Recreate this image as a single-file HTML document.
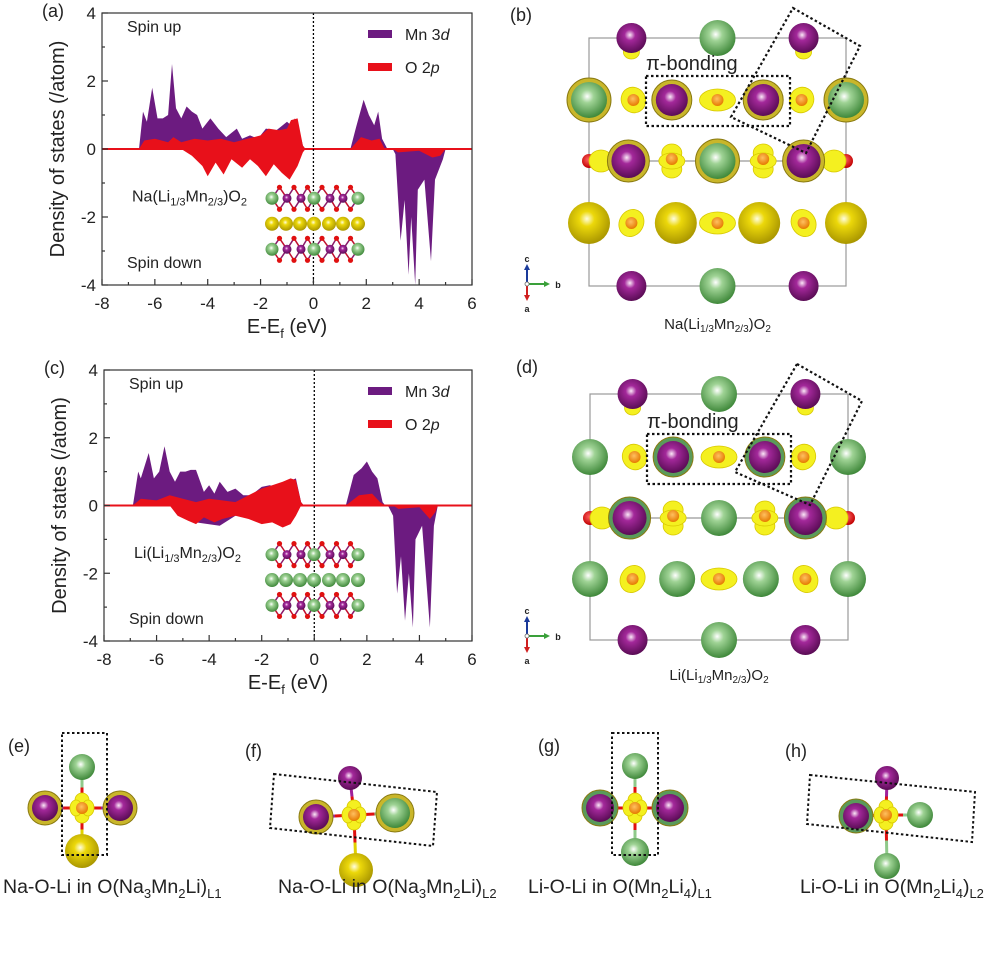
<!DOCTYPE html>
<html><head><meta charset="utf-8">
<style>
html,body{margin:0;padding:0;background:#fff;}
svg{display:block;font-family:"Liberation Sans",Arial,sans-serif;}
</style></head>
<body>
<svg id="fig" width="1000" height="954" viewBox="0 0 1000 954" xmlns="http://www.w3.org/2000/svg">
<defs>
<radialGradient id="gP" cx="0.45" cy="0.4" r="0.6"><stop offset="0" stop-color="#fbe8f7"/><stop offset="0.3" stop-color="#a3289a"/><stop offset="1" stop-color="#5a0c55"/></radialGradient>
<radialGradient id="gG" cx="0.45" cy="0.4" r="0.6"><stop offset="0" stop-color="#ffffff"/><stop offset="0.3" stop-color="#9fd395"/><stop offset="1" stop-color="#3f883a"/></radialGradient>
<radialGradient id="gY" cx="0.45" cy="0.4" r="0.6"><stop offset="0" stop-color="#fffde0"/><stop offset="0.3" stop-color="#ecd80a"/><stop offset="1" stop-color="#a99600"/></radialGradient>
<radialGradient id="gO" cx="0.45" cy="0.4" r="0.6"><stop offset="0" stop-color="#ffc060"/><stop offset="1" stop-color="#e57a00"/></radialGradient>
<radialGradient id="gR" cx="0.45" cy="0.4" r="0.6"><stop offset="0" stop-color="#ff6060"/><stop offset="1" stop-color="#c00000"/></radialGradient>
</defs>
<g id="dosA"></g>
<g id="dosC"></g>
<g id="crysB"></g>
<g id="crysD"></g>
<g id="bottom"></g>
</svg>
<script>
// ---- DOS data panel (a) ----
const aMnUp = [[-6.6,0],[-6.45,1.1],[-6.3,0.8],[-6.1,1.8],[-5.9,0.9],[-5.7,0.9],[-5.5,1.0],[-5.35,2.5],[-5.2,1.2],[-5.0,0.9],[-4.8,1.25],[-4.6,1.1],[-4.4,1.0],[-4.2,0.6],[-3.9,0.9],[-3.6,0.6],[-3.3,0.35],[-2.9,0.6],[-2.7,0.3],[-2.4,0.4],[-2.1,0.3],[-1.8,0.6],[-1.4,0.55],[-1.0,0.8],[-0.85,0.7],[-0.7,0.9],[-0.55,0.6],[-0.4,0.1],[-0.3,0]];
const aMnUpC = [[1.4,0],[1.6,0.6],[1.9,1.45],[2.1,1.0],[2.3,0.7],[2.45,1.1],[2.6,0.3],[2.8,0]];
const aOUp = [[-6.6,0],[-6.4,0.25],[-6.0,0.3],[-5.5,0.2],[-5.3,0.35],[-5.0,0.2],[-4.5,0.3],[-4.0,0.25],[-3.5,0.3],[-3.0,0.2],[-2.5,0.3],[-2.0,0.4],[-1.7,0.6],[-1.3,0.55],[-1.0,0.6],[-0.85,0.85],[-0.6,0.9],[-0.4,0.1],[-0.3,0]];
const aOUpC = [[1.4,0],[1.8,0.35],[2.2,0.25],[2.5,0.3],[2.7,0]];
const aODn = [[-5.0,0],[-4.6,-0.2],[-4.2,-0.5],[-4.0,-0.8],[-3.7,-0.4],[-3.4,-0.75],[-3.1,-0.3],[-2.7,-0.55],[-2.4,-0.3],[-2.1,-0.5],[-1.8,-0.8],[-1.5,-0.45],[-1.2,-0.7],[-0.9,-0.9],[-0.6,-0.5],[-0.4,-0.1],[-0.3,0]];
const aMnDnC = [[3.0,0],[3.1,-0.15],[3.3,-2.7],[3.45,-1.5],[3.6,-3.7],[3.7,-2.0],[3.85,-4.0],[3.95,-1.2],[4.2,-0.9],[4.45,-3.3],[4.6,-0.9],[4.9,-0.3],[5.0,0]];
const aODnC = [[3.0,0],[3.2,-0.1],[4.0,-0.05],[4.5,-0.25],[4.8,-0.2],[5.0,0]];
// ---- DOS data panel (c) ----
const cMnUp = [[-6.9,0],[-6.7,1.0],[-6.6,0.8],[-6.3,1.55],[-6.1,0.8],[-5.9,1.0],[-5.7,1.75],[-5.5,1.0],[-5.3,0.7],[-5.1,1.0],[-4.9,1.0],[-4.7,1.05],[-4.5,1.05],[-4.2,0.4],[-4.0,0.6],[-3.8,0.35],[-3.6,0.7],[-3.3,0.4],[-3.0,0.5],[-2.7,0.3],[-2.4,0.3],[-2.0,0.55],[-1.7,0.6],[-1.4,0.55],[-1.0,0.7],[-0.7,0.8],[-0.5,0.1],[-0.4,0]];
const cMnUpC = [[1.2,0],[1.5,0.9],[1.8,1.1],[2.0,1.3],[2.2,1.0],[2.4,0.8],[2.6,0.1],[2.7,0]];
const cOUp = [[-6.9,0],[-6.6,0.2],[-6.0,0.15],[-5.5,0.3],[-5.0,0.2],[-4.5,0.1],[-4.0,0.2],[-3.5,0.15],[-3.0,0.1],[-2.5,0.3],[-2.0,0.5],[-1.6,0.6],[-1.2,0.7],[-0.9,0.8],[-0.7,0.75],[-0.5,0.1],[-0.4,0]];
const cOUpC = [[1.2,0],[1.7,0.3],[2.2,0.35],[2.5,0.1],[2.7,0]];
const cMnDn = [[-5.5,0],[-4.5,-0.5],[-3.6,-0.6],[-3.0,-0.3],[-0.5,0]];
const cODn = [[-5.5,0],[-5.2,-0.3],[-4.8,-0.45],[-4.5,-0.55],[-4.2,-0.35],[-3.8,-0.5],[-3.5,-0.4],[-3.0,-0.3],[-2.5,-0.4],[-2.0,-0.55],[-1.6,-0.5],[-1.2,-0.65],[-0.9,-0.55],[-0.7,-0.3],[-0.5,0]];
const cMnDnC = [[2.8,0],[3.0,-0.3],[3.15,-2.6],[3.3,-1.5],[3.45,-3.4],[3.6,-2.0],[3.75,-3.6],[3.85,-1.0],[4.1,-0.6],[4.4,-3.6],[4.55,-0.6],[4.7,0]];
const cODnC = [[3.0,0],[3.2,-0.1],[4.0,-0.05],[4.4,-0.4],[4.6,-0.2],[4.7,0]];
const xTicks = [-8,-6,-4,-2,0,2,4,6];
const yTicks = [4,2,0,-2,-4];

const NS = "http://www.w3.org/2000/svg";
function mk(parent, tag, attrs, text){
  const e = document.createElementNS(NS, tag);
  for (const k in attrs) e.setAttribute(k, attrs[k]);
  if (text !== undefined) e.textContent = text;
  parent.appendChild(e); return e;
}

function drawDOS(g, box, label, formula, mnSets, oSets, insetLayer){
  const xS = E => box.x0 + (E + 8) / 14 * (box.x1 - box.x0);
  const yS = v => (box.y0 + box.y1) / 2 - v * (box.y1 - box.y0) / 8;
  const poly = (pts, col, name) => {
    const p = mk(g, 'polygon', {points: pts.map(d => xS(d[0]).toFixed(1) + ',' + yS(d[1]).toFixed(1)).join(' '), fill: col});
    
    
  };
  mnSets.forEach(s => poly(s, '#6c1b80', 'mn-3d-area'));
  oSets.forEach(s => poly(s, '#e8101a', 'o-2p-area'));
  const zl = mk(g, 'line', {x1: box.x0, x2: box.x1, y1: yS(0), y2: yS(0), stroke: '#e8101a', 'stroke-width': 2});
  
  
  const fl = mk(g, 'line', {x1: xS(0), x2: xS(0), y1: box.y0, y2: box.y1, stroke: '#000', 'stroke-width': 1.3, 'stroke-dasharray': '2,2'});
  
  
  const fr = mk(g, 'rect', {x: box.x0, y: box.y0, width: box.x1 - box.x0, height: box.y1 - box.y0, fill: 'none', stroke: '#333', 'stroke-width': 1.2});
  
  
  for (let E = -8; E <= 6; E += 1) {
    const maj = (E % 2 === 0);
    mk(g, 'line', {x1: xS(E), x2: xS(E), y1: box.y1, y2: box.y1 - (maj ? 6 : 3), stroke: '#333', 'stroke-width': 1.2});
  }
  for (let v = -4; v <= 4; v += 1) {
    const maj = (v % 2 === 0);
    mk(g, 'line', {x1: box.x0, x2: box.x0 + (maj ? 6 : 3), y1: yS(v), y2: yS(v), stroke: '#333', 'stroke-width': 1.2});
  }
  xTicks.forEach(t => {
    const tx = mk(g, 'text', {x: xS(t), y: box.y1 + 24, 'font-size': 17, 'text-anchor': 'middle', fill: '#222'}, String(t));
    
    
  });
  yTicks.forEach(t => {
    const tx = mk(g, 'text', {x: box.x0 - 6, y: yS(t) + 6, 'font-size': 17, 'text-anchor': 'end', fill: '#222'}, String(t));
    
    
  });
  const yt = mk(g, 'text', {x: 0, y: 0, 'font-size': 20, 'text-anchor': 'middle', fill: '#222', transform: 'translate(' + (box.x0 - 38) + ',' + ((box.y0 + box.y1) / 2) + ') rotate(-90)'}, 'Density of states (/atom)');
  
  
  const xt = mk(g, 'text', {x: xS(-1), y: box.y1 + 48, 'font-size': 20, 'text-anchor': 'middle', fill: '#222'});
  
  
  xt.innerHTML = 'E-E<tspan font-size="13" dy="5">f</tspan><tspan dy="-5"> (eV)</tspan>';
  const pl = mk(g, 'text', {x: box.x0 - 60, y: box.y0 + 4, 'font-size': 18, fill: '#222'}, label);
  
  
  const su = mk(g, 'text', {x: box.x0 + 25, y: box.y0 + 19, 'font-size': 16, fill: '#222'}, 'Spin up');
  
  
  const sd = mk(g, 'text', {x: box.x0 + 25, y: box.y1 - 17, 'font-size': 16, fill: '#222'}, 'Spin down');
  
  
  const lm = mk(g, 'rect', {x: 368, y: box.y0 + 17, width: 24, height: 8, fill: '#6c1b80'});
  
  
  const lmt = mk(g, 'text', {x: 405, y: box.y0 + 27, 'font-size': 16, fill: '#222'});
  
  
  lmt.innerHTML = 'Mn 3<tspan font-style="italic">d</tspan>';
  const lo = mk(g, 'rect', {x: 368, y: box.y0 + 50, width: 24, height: 8, fill: '#e8101a'});
  
  
  const lot = mk(g, 'text', {x: 405, y: box.y0 + 60, 'font-size': 16, fill: '#222'});
  
  
  lot.innerHTML = 'O 2<tspan font-style="italic">p</tspan>';
  const fm = mk(g, 'text', {x: box.x0 + 30, y: yS(-1.55), 'font-size': 16, fill: '#222'});
  
  
  fm.innerHTML = formula;
  const ig = mk(g, 'g', {});
  
  
  const ytop = yS(-1.45), ymid = yS(-2.2), ybot = yS(-2.95);
  [ytop, ybot].forEach(yy => {
    const xs = [272, 287, 301, 314, 330, 343, 358];
    for (let i = 0; i < 6; i++) {
      const xa = xs[i], xb = xs[i + 1], xm = (xa + xb) / 2;
      mk(ig, 'line', {x1: xa, y1: yy, x2: xm, y2: yy - 11, stroke: '#8a1a6a', 'stroke-width': 1.5});
      mk(ig, 'line', {x1: xb, y1: yy, x2: xm, y2: yy - 11, stroke: '#c01030', 'stroke-width': 1.5});
      mk(ig, 'line', {x1: xa, y1: yy, x2: xm, y2: yy + 11, stroke: '#c01030', 'stroke-width': 1.5});
      mk(ig, 'line', {x1: xb, y1: yy, x2: xm, y2: yy + 11, stroke: '#8a1a6a', 'stroke-width': 1.5});
      mk(ig, 'circle', {cx: xm, cy: yy - 11, r: 2.6, fill: '#e01010'});
      mk(ig, 'circle', {cx: xm, cy: yy + 11, r: 2.6, fill: '#e01010'});
    }
    xs.forEach((x, i) => {
      const green = (i === 0 || i === 3 || i === 6);
      mk(ig, 'circle', {cx: x, cy: yy, r: green ? 6.5 : 4.5, fill: green ? 'url(#gG)' : 'url(#gP)'});
    });
  });
  [272, 286, 300, 314, 329, 343, 358].forEach(x => mk(ig, 'circle', {cx: x, cy: ymid, r: 7, fill: insetLayer === 'Na' ? 'url(#gY)' : 'url(#gG)'}));
}

drawDOS(document.getElementById('dosA'), {x0: 102, x1: 472, y0: 13, y1: 285}, '(a)',
  'Na(Li<tspan font-size="11" dy="4">1/3</tspan><tspan dy="-4">Mn</tspan><tspan font-size="11" dy="4">2/3</tspan><tspan dy="-4">)O</tspan><tspan font-size="11" dy="4">2</tspan>',
  [aMnUp, aMnUpC, aMnDnC], [aOUp, aOUpC, aODn, aODnC], 'Na');
drawDOS(document.getElementById('dosC'), {x0: 104, x1: 472, y0: 370, y1: 641}, '(c)',
  'Li(Li<tspan font-size="11" dy="4">1/3</tspan><tspan dy="-4">Mn</tspan><tspan font-size="11" dy="4">2/3</tspan><tspan dy="-4">)O</tspan><tspan font-size="11" dy="4">2</tspan>',
  [cMnUp, cMnUpC, cMnDn, cMnDnC], [cOUp, cOUpC, cODn, cODnC], 'Li');

function ball(g, x, y, r, t, halo){
  if (halo) mk(g, 'circle', {cx: x, cy: y, r: r + 4, fill: halo, stroke: '#8a7a10', 'stroke-width': 1});
  const fill = {P: 'url(#gP)', G: 'url(#gG)', Y: 'url(#gY)', O: 'url(#gO)', R: 'url(#gR)'}[t];
  mk(g, 'circle', {cx: x, cy: y, r: r, fill: fill});
}
function lobe(g, x, y, rx, ry, rot){
  mk(g, 'ellipse', {cx: x, cy: y, rx: rx, ry: ry, fill: '#f4f020', stroke: '#d8c800', 'stroke-width': 0.8, transform: 'rotate(' + (rot || 0) + ' ' + x + ' ' + y + ')'});
}
function crystal(g, L, label, formula, isNa){
  const gx = [L.x0, L.x0 + (L.x1 - L.x0) * 0.165, L.x0 + (L.x1 - L.x0) * 0.33, (L.x0 + L.x1) / 2, L.x0 + (L.x1 - L.x0) * 0.67, L.x0 + (L.x1 - L.x0) * 0.835, L.x1];
  const ry = L.rows;
  const cell = mk(g, 'rect', {x: L.x0, y: ry[0], width: L.x1 - L.x0, height: ry[4] - ry[0], fill: 'none', stroke: '#999', 'stroke-width': 1.2});
  
  
  mk(g, 'line', {x1: L.x0, x2: L.x1, y1: ry[2], y2: ry[2], stroke: '#999', 'stroke-width': 1.2});
  const halo = isNa ? '#c9b62a' : null;
  [ry[0], ry[4]].forEach((yy, k) => {
    lobe(g, gx[1], yy + (k ? -5 : 14), 8, 7); lobe(g, gx[5], yy + (k ? -5 : 14), 8, 7);
    ball(g, gx[1], yy, 15, 'P'); ball(g, gx[3], yy, 18, 'G'); ball(g, gx[5], yy, 15, 'P');
  });
  const y2 = ry[1];
  ball(g, gx[0], y2, 18, 'G', halo); ball(g, gx[6], y2, 18, 'G', halo);
  lobe(g, gx[1] + 2, y2, 12, 13, -30); ball(g, gx[1] + 2, y2, 6, 'O');
  lobe(g, gx[5] - 2, y2, 12, 13, 30); ball(g, gx[5] - 2, y2, 6, 'O');
  ball(g, gx[2] - 2, y2, 16, 'P', isNa ? '#c9b62a' : '#5a9a5a');
  ball(g, gx[4] + 2, y2, 16, 'P', isNa ? '#c9b62a' : '#5a9a5a');
  lobe(g, gx[3], y2, 18, 11); ball(g, gx[3], y2, 6, 'O');
  const y3 = ry[2];
  ball(g, L.x0, y3, 7, 'R'); ball(g, L.x1, y3, 7, 'R');
  lobe(g, L.x0 + 12, y3, 12, 11); lobe(g, L.x1 - 12, y3, 12, 11);
  ball(g, gx[1] - 3, y3, 17, 'P', isNa ? '#c9b62a' : '#5a9a5a');
  ball(g, gx[5], y3, 17, 'P', isNa ? '#c9b62a' : '#5a9a5a');
  ball(g, gx[3], y3, 18, 'G', halo);
  [gx[2] - 2, gx[4] + 2].forEach(x => { lobe(g, x, y3 - 8, 10, 9); lobe(g, x, y3 + 8, 10, 9); lobe(g, x, y3, 13, 8); ball(g, x, y3 - 2, 6, 'O'); });
  const y4 = ry[3];
  [gx[0], gx[2] + 2, gx[4] - 2, gx[6]].forEach(x => ball(g, x, y4, isNa ? 21 : 18, isNa ? 'Y' : 'G'));
  lobe(g, gx[1], y4, 12, 14, 30); ball(g, gx[1], y4, 6, 'O');
  lobe(g, gx[5], y4, 12, 14, -30); ball(g, gx[5], y4, 6, 'O');
  lobe(g, gx[3], y4, 18, 11); ball(g, gx[3], y4, 6, 'O');
  const pb = mk(g, 'rect', {x: L.pb[0], y: L.pb[1], width: L.pb[2], height: L.pb[3], fill: 'none', stroke: '#111', 'stroke-width': 2.2, 'stroke-dasharray': '2.5,2.5'});
  
  
  const tb = mk(g, 'polygon', {points: L.tilt, fill: 'none', stroke: '#111', 'stroke-width': 2.2, 'stroke-dasharray': '2.5,2.5'});
  
  
  const pt = mk(g, 'text', {x: L.pb[0], y: L.pb[1] - 6, 'font-size': 20, fill: '#222'}, 'π-bonding');
  
  
  const lb = mk(g, 'text', {x: L.lab[0], y: L.lab[1], 'font-size': 18, fill: '#222'}, label);
  
  
  const ax = L.ax[0], ay = L.ax[1];
  const ag = mk(g, 'g', {});
  
  
  mk(ag, 'line', {x1: ax, y1: ay, x2: ax, y2: ay - 15, stroke: '#1a3a9a', 'stroke-width': 2});
  mk(ag, 'polygon', {points: (ax - 3) + ',' + (ay - 14) + ' ' + (ax + 3) + ',' + (ay - 14) + ' ' + ax + ',' + (ay - 20), fill: '#1a3a9a'});
  mk(ag, 'line', {x1: ax, y1: ay, x2: ax + 18, y2: ay, stroke: '#3aa03a', 'stroke-width': 2});
  mk(ag, 'polygon', {points: (ax + 17) + ',' + (ay - 3) + ' ' + (ax + 17) + ',' + (ay + 3) + ' ' + (ax + 23) + ',' + ay, fill: '#3aa03a'});
  mk(ag, 'line', {x1: ax, y1: ay, x2: ax, y2: ay + 12, stroke: '#d02020', 'stroke-width': 2});
  mk(ag, 'polygon', {points: (ax - 3) + ',' + (ay + 11) + ' ' + (ax + 3) + ',' + (ay + 11) + ' ' + ax + ',' + (ay + 17), fill: '#d02020'});
  mk(ag, 'circle', {cx: ax, cy: ay, r: 2, fill: '#fff', stroke: '#666', 'stroke-width': 0.8});
  mk(ag, 'text', {x: ax, y: ay - 22, 'font-size': 9, 'font-weight': 'bold', 'text-anchor': 'middle', fill: '#222'}, 'c');
  mk(ag, 'text', {x: ax + 31, y: ay + 4, 'font-size': 9, 'font-weight': 'bold', 'text-anchor': 'middle', fill: '#222'}, 'b');
  mk(ag, 'text', {x: ax, y: ay + 28, 'font-size': 9, 'font-weight': 'bold', 'text-anchor': 'middle', fill: '#222'}, 'a');
  const fm = mk(g, 'text', {x: (L.x0 + L.x1) / 2, y: L.capY, 'font-size': 15, 'text-anchor': 'middle', fill: '#222'});
  
  
  fm.innerHTML = formula;
}
const fNa = 'Na(Li<tspan font-size="10" dy="3">1/3</tspan><tspan dy="-3">Mn</tspan><tspan font-size="10" dy="3">2/3</tspan><tspan dy="-3">)O</tspan><tspan font-size="10" dy="3">2</tspan>';
const fLi = 'Li(Li<tspan font-size="10" dy="3">1/3</tspan><tspan dy="-3">Mn</tspan><tspan font-size="10" dy="3">2/3</tspan><tspan dy="-3">)O</tspan><tspan font-size="10" dy="3">2</tspan>';
crystal(document.getElementById('crysB'), {x0: 589, x1: 846, rows: [38, 100, 161, 223, 286], pb: [646, 76, 144, 50],
  tilt: '793,8 860,46 806,153 731,117', lab: [510, 21], ax: [527, 284], capY: 329}, '(b)', fNa, true);
crystal(document.getElementById('crysD'), {x0: 590, x1: 848, rows: [394, 457, 518, 579, 640], pb: [647, 434, 144, 50],
  tilt: '797,364 862,401 810,505 735,472', lab: [516, 373], ax: [527, 636], capY: 680}, '(d)', fLi, false);

const B = document.getElementById('bottom');
function bond(g, x1, y1, x2, y2, c1, c2){
  const mx = (x1 + x2) / 2, my = (y1 + y2) / 2;
  mk(g, 'line', {x1: x1, y1: y1, x2: mx, y2: my, stroke: c1, 'stroke-width': 3});
  mk(g, 'line', {x1: mx, y1: my, x2: x2, y2: y2, stroke: c2, 'stroke-width': 3});
}
function cluster(spec){
  const g = mk(B, 'g', {});
  
  
  const c = spec.c;
  spec.atoms.forEach(a => bond(g, c[0], c[1], a[0], a[1], '#e01010', a[3]));
  spec.atoms.forEach(a => ball(g, a[0], a[1], a[2], a[4], a[5]));
  lobe(g, c[0], c[1] - 8, 7, 7); lobe(g, c[0], c[1] + 8, 7, 7); lobe(g, c[0] - 6, c[1], 6, 8); lobe(g, c[0] + 6, c[1], 6, 8);
  ball(g, c[0], c[1], 6, 'O');
  const db = mk(g, 'polygon', {points: spec.box, fill: 'none', stroke: '#111', 'stroke-width': 2, 'stroke-dasharray': '2.5,2.5'});
  
  
  const lb = mk(g, 'text', {x: spec.lab[0], y: spec.lab[1], 'font-size': 18, fill: '#222'}, spec.label);
  
  
  const cp = mk(g, 'text', {x: spec.cap, y: 893, 'font-size': 19.5, fill: '#222'});
  
  
  cp.innerHTML = spec.capText;
}
const H = '#c9b62a';
const sub = s => '<tspan font-size="13" dy="5">' + s + '</tspan><tspan dy="-5">';
cluster({name: 'cluster-e', c: [82, 808], label: '(e)', lab: [8, 752], cap: 3,
  capText: 'Na-O-Li in O(Na' + sub('3') + 'Mn</tspan>' + sub('2') + 'Li)</tspan><tspan font-size="13" dy="5">L1</tspan>',
  box: '62,733 107,733 107,855 62,855',
  atoms: [[82, 767, 13, '#8fc98a', 'G', null], [45, 808, 13, '#a0209a', 'P', H], [120, 808, 13, '#a0209a', 'P', H], [82, 851, 17, '#e0d000', 'Y', null]]});
cluster({name: 'cluster-f', c: [354, 815], label: '(f)', lab: [245, 757], cap: 278,
  capText: 'Na-O-Li in O(Na' + sub('3') + 'Mn</tspan>' + sub('2') + 'Li)</tspan><tspan font-size="13" dy="5">L2</tspan>',
  box: '274,774 437,792 433,846 270,828',
  atoms: [[350, 778, 12, '#a0209a', 'P', null], [316, 817, 13, '#a0209a', 'P', H], [395, 813, 15, '#8fc98a', 'G', H], [356, 870, 17, '#e0d000', 'Y', null]]});
cluster({name: 'cluster-g', c: [635, 808], label: '(g)', lab: [538, 752], cap: 528,
  capText: 'Li-O-Li in O(Mn' + sub('2') + 'Li</tspan>' + sub('4') + ')</tspan><tspan font-size="13" dy="5">L1</tspan>',
  box: '612,733 658,733 658,855 612,855',
  atoms: [[635, 766, 13, '#8fc98a', 'G', null], [600, 808, 14, '#a0209a', 'P', '#5a9a5a'], [670, 808, 14, '#a0209a', 'P', '#5a9a5a'], [635, 852, 14, '#8fc98a', 'G', null]]});
cluster({name: 'cluster-h', c: [886, 815], label: '(h)', lab: [785, 757], cap: 800,
  capText: 'Li-O-Li in O(Mn' + sub('2') + 'Li</tspan>' + sub('4') + ')</tspan><tspan font-size="13" dy="5">L2</tspan>',
  box: '810,775 975,792 972,842 807,824',
  atoms: [[887, 778, 12, '#a0209a', 'P', null], [856, 816, 13, '#a0209a', 'P', '#5a9a5a'], [920, 815, 13, '#8fc98a', 'G', null], [887, 866, 13, '#8fc98a', 'G', null]]});
</script>
</body></html>
